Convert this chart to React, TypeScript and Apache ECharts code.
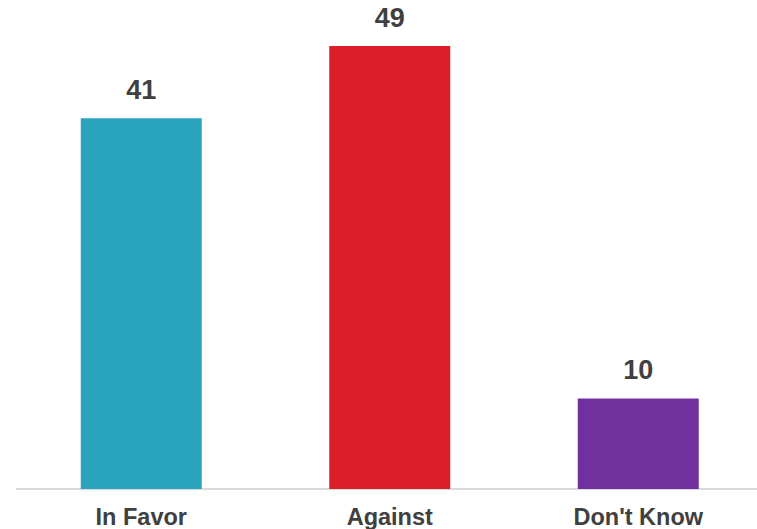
import React, { useEffect, useRef } from "react";
import * as echarts from "echarts";

const categories = ["In Favor", "Against", "Don't Know"];
const values = [41, 49, 10];
const colors = ["#2AA3BF", "#DA1F28", "#70309E"];

export default function App() {
  const ref = useRef<HTMLDivElement>(null);
  useEffect(() => {
    if (!ref.current) return;
    const chart = echarts.init(ref.current, null, { renderer: "svg" });
    chart.setOption({
      animation: false,
      backgroundColor: "#ffffff",
      grid: { left: 17, width: 745.5, top: 37, bottom: 40, containLabel: false },
      xAxis: {
        type: "category",
        data: categories,
        axisLine: { show: true, lineStyle: { color: "#d9d9d9", width: 2 } },
        axisTick: { show: false },
        axisLabel: {
          color: "#404040",
          fontFamily: "Liberation Sans, Arial, sans-serif",
          fontWeight: "bold",
          fontSize: 23.5,
          margin: 16,
        },
      },
      yAxis: {
        type: "value",
        min: 0,
        max: 50,
        show: false,
        splitLine: { show: false },
      },
      series: [
        {
          type: "bar",
          barWidth: 121,
          data: values.map((v, i) => ({ value: v, itemStyle: { color: colors[i] } })),
          label: {
            show: true,
            position: "top",
            distance: 15,
            color: "#404040",
            fontFamily: "Liberation Sans, Arial, sans-serif",
            fontWeight: "bold",
            fontSize: 27,
          },
        },
      ],
    });
    return () => chart.dispose();
  }, []);
  return (
    <div style={{ position: "absolute", left: 0, top: 0, width: 757, height: 529, overflow: "hidden", background: "#fff" }}>
      <div ref={ref} style={{ width: 770, height: 529 }} />
    </div>
  );
}
